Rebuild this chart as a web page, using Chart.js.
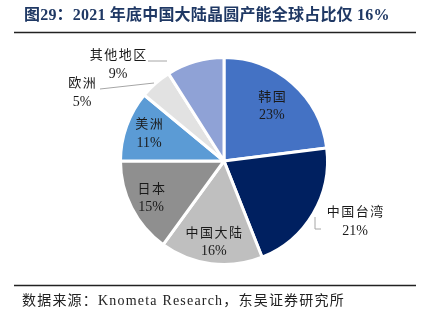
<!DOCTYPE html>
<html>
  <head>
    <title>Wafer Capacity Share 2021</title>
    <script src="https://cdn.jsdelivr.net/npm/chart.js"></script>
    <style>
      html, body { margin: 0; padding: 0; background: #fff; }
      #wrap { width: 426px; height: 326px; position: relative; }
    </style>
  </head>
  <body>
    <div id="wrap"><canvas id="shareChart" width="426" height="326"></canvas></div>

    <script>
      const titleText = '图29：2021 年底中国大陆晶圆产能全球占比仅 16%';
      const sourceText = '数据来源：Knometa Research，东吴证券研究所';

      const regions = ['韩国', '中国台湾', '中国大陆', '日本', '美洲', '欧洲', '其他地区'];
      const shares = [23, 21, 16, 15, 11, 5, 9];
      const colors = ['#4472C4', '#002060', '#BFBFBF', '#8F8F8F', '#5B9BD5', '#E2E2E2', '#8FA2D6'];

      const serif = '"Liberation Serif", "Noto Sans CJK SC", serif';

      // inside labels: fraction of radius; outside labels: offsets from centre
      const inside = { 0: 0.7, 2: 0.79, 3: 0.79, 4: 0.77 };
      const outside = {
        1: { tx: 131, ty: 61, line: [[91, 56], [91, 68], [97, 68]] },
        5: { tx: -142, ty: -68, line: [[-124, -72], [-70, -78]] },
        6: { tx: -106, ty: -96, line: [[-76, -100], [-57, -100]] },
      };

      const decor = {
        id: 'decor',
        afterDraw(chart) {
          const ctx = chart.ctx;
          ctx.save();
          // title
          ctx.fillStyle = '#1F3864';
          ctx.font = 'bold 16px ' + serif;
          ctx.textBaseline = 'middle';
          ctx.textAlign = 'left';
          ctx.letterSpacing = '0.2px';
          ctx.fillText(titleText, 24, 16);
          // rules
          ctx.strokeStyle = '#222';
          ctx.lineWidth = 1.5;
          ctx.beginPath();
          ctx.moveTo(14, 32.5); ctx.lineTo(416, 32.5);
          ctx.moveTo(14, 285.5); ctx.lineTo(416, 285.5);
          ctx.stroke();
          // source
          ctx.fillStyle = '#222';
          ctx.font = '14px ' + serif;
          ctx.letterSpacing = '1.2px';
          ctx.fillText(sourceText, 22, 301);

          // slice labels
          const arcs = chart.getDatasetMeta(0).data;
          ctx.textAlign = 'center';
          ctx.fillStyle = '#1a1a1a';
          arcs.forEach((arc, i) => {
            const cx = arc.x, cy = arc.y;
            const mid = (arc.startAngle + arc.endAngle) / 2;
            let lx, ly;
            if (inside[i] !== undefined) {
              const r = arc.outerRadius * inside[i];
              lx = cx + Math.cos(mid) * r;
              ly = cy + Math.sin(mid) * r;
            } else {
              const o = outside[i];
              ctx.strokeStyle = '#A6A6A6';
              ctx.lineWidth = 1;
              ctx.beginPath();
              o.line.forEach((p, k) => {
                if (k === 0) ctx.moveTo(cx + p[0], cy + p[1]);
                else ctx.lineTo(cx + p[0], cy + p[1]);
              });
              ctx.stroke();
              lx = cx + o.tx;
              ly = cy + o.ty;
            }
            ctx.font = '13px ' + serif;
            ctx.letterSpacing = '1.5px';
            ctx.fillText(regions[i], lx + 0.75, ly - 9);
            ctx.font = '14px ' + serif;
            ctx.letterSpacing = '0px';
            ctx.fillText(shares[i] + '%', lx, ly + 9);
          });
          ctx.restore();
        },
      };

      const ctx = document.getElementById('shareChart').getContext('2d');
      const chart = new Chart(ctx, {
        type: 'pie',
        data: {
          labels: regions,
          datasets: [
            {
              data: shares,
              backgroundColor: colors,
              borderColor: '#ffffff',
              borderWidth: 3,
            },
          ],
        },
        options: {
          responsive: false,
          animation: false,
          layout: { padding: { top: 56, bottom: 60, left: 119, right: 97 } },
          plugins: {
            legend: { display: false },
            tooltip: { enabled: false },
          },
        },
        plugins: [decor],
      });
    </script>
  </body>
</html>
